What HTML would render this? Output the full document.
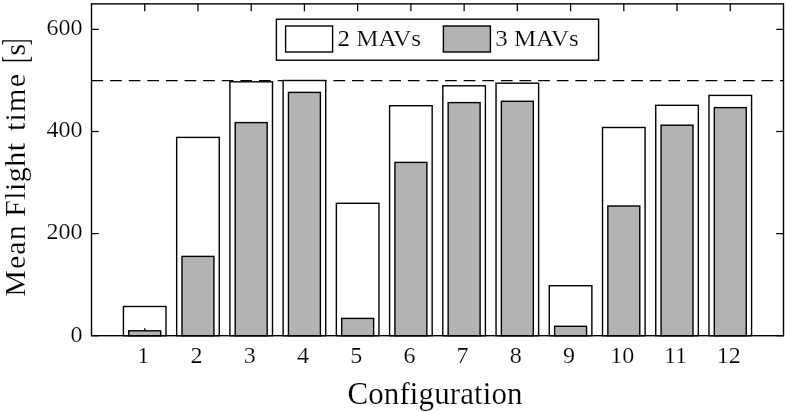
<!DOCTYPE html>
<html lang="en"><head><meta charset="utf-8"><title>Mean Flight time per Configuration</title>
<style>html,body{margin:0;padding:0;background:#fff;}svg{display:block;}text{font-family:"Liberation Serif","DejaVu Serif",serif;fill:#000;stroke:#fff;stroke-width:0.18px;}</style></head><body>
<svg width="786" height="412" viewBox="0 0 786 412">
<rect x="0" y="0" width="786" height="412" fill="#ffffff"/>
<line x1="91.5" y1="80.50" x2="783.5" y2="80.50" stroke="#000" stroke-width="1.25" stroke-dasharray="11.7 6.91"/>
<g stroke="#000" stroke-width="1.4">
<rect x="123.44" y="306.50" width="42.58" height="29.20" fill="#ffffff"/>
<rect x="176.67" y="137.40" width="42.58" height="198.30" fill="#ffffff"/>
<rect x="229.90" y="81.80" width="42.58" height="253.90" fill="#ffffff"/>
<rect x="283.13" y="80.50" width="42.58" height="255.20" fill="#ffffff"/>
<rect x="336.36" y="203.30" width="42.58" height="132.40" fill="#ffffff"/>
<rect x="389.59" y="105.70" width="42.58" height="230.00" fill="#ffffff"/>
<rect x="442.82" y="85.80" width="42.58" height="249.90" fill="#ffffff"/>
<rect x="496.05" y="83.20" width="42.58" height="252.50" fill="#ffffff"/>
<rect x="549.28" y="285.70" width="42.58" height="50.00" fill="#ffffff"/>
<rect x="602.52" y="127.50" width="42.58" height="208.20" fill="#ffffff"/>
<rect x="655.75" y="105.30" width="42.58" height="230.40" fill="#ffffff"/>
<rect x="708.98" y="95.40" width="42.58" height="240.30" fill="#ffffff"/>
</g>
<g stroke="#000" stroke-width="1.25" fill="none">
<line x1="144.73" y1="3.87" x2="144.73" y2="11.370000000000001"/>
<line x1="144.73" y1="335.7" x2="144.73" y2="328.2"/>
<line x1="197.96" y1="3.87" x2="197.96" y2="11.370000000000001"/>
<line x1="197.96" y1="335.7" x2="197.96" y2="328.2"/>
<line x1="251.19" y1="3.87" x2="251.19" y2="11.370000000000001"/>
<line x1="251.19" y1="335.7" x2="251.19" y2="328.2"/>
<line x1="304.42" y1="3.87" x2="304.42" y2="11.370000000000001"/>
<line x1="304.42" y1="335.7" x2="304.42" y2="328.2"/>
<line x1="357.65" y1="3.87" x2="357.65" y2="11.370000000000001"/>
<line x1="357.65" y1="335.7" x2="357.65" y2="328.2"/>
<line x1="410.88" y1="3.87" x2="410.88" y2="11.370000000000001"/>
<line x1="410.88" y1="335.7" x2="410.88" y2="328.2"/>
<line x1="464.12" y1="3.87" x2="464.12" y2="11.370000000000001"/>
<line x1="464.12" y1="335.7" x2="464.12" y2="328.2"/>
<line x1="517.35" y1="3.87" x2="517.35" y2="11.370000000000001"/>
<line x1="517.35" y1="335.7" x2="517.35" y2="328.2"/>
<line x1="570.58" y1="3.87" x2="570.58" y2="11.370000000000001"/>
<line x1="570.58" y1="335.7" x2="570.58" y2="328.2"/>
<line x1="623.81" y1="3.87" x2="623.81" y2="11.370000000000001"/>
<line x1="623.81" y1="335.7" x2="623.81" y2="328.2"/>
<line x1="677.04" y1="3.87" x2="677.04" y2="11.370000000000001"/>
<line x1="677.04" y1="335.7" x2="677.04" y2="328.2"/>
<line x1="730.27" y1="3.87" x2="730.27" y2="11.370000000000001"/>
<line x1="730.27" y1="335.7" x2="730.27" y2="328.2"/>
<line x1="91.5" y1="335.70" x2="98.8" y2="335.70"/>
<line x1="783.5" y1="335.70" x2="776.2" y2="335.70"/>
<line x1="91.5" y1="233.60" x2="98.8" y2="233.60"/>
<line x1="783.5" y1="233.60" x2="776.2" y2="233.60"/>
<line x1="91.5" y1="131.50" x2="98.8" y2="131.50"/>
<line x1="783.5" y1="131.50" x2="776.2" y2="131.50"/>
<line x1="91.5" y1="29.40" x2="98.8" y2="29.40"/>
<line x1="783.5" y1="29.40" x2="776.2" y2="29.40"/>
</g>
<g stroke="#000" stroke-width="1.4">
<rect x="128.76" y="330.80" width="31.94" height="4.90" fill="#b3b3b3"/>
<rect x="181.99" y="256.40" width="31.94" height="79.30" fill="#b3b3b3"/>
<rect x="235.22" y="122.60" width="31.94" height="213.10" fill="#b3b3b3"/>
<rect x="288.45" y="92.40" width="31.94" height="243.30" fill="#b3b3b3"/>
<rect x="341.68" y="318.40" width="31.94" height="17.30" fill="#b3b3b3"/>
<rect x="394.92" y="162.40" width="31.94" height="173.30" fill="#b3b3b3"/>
<rect x="448.15" y="102.60" width="31.94" height="233.10" fill="#b3b3b3"/>
<rect x="501.38" y="101.30" width="31.94" height="234.40" fill="#b3b3b3"/>
<rect x="554.61" y="326.30" width="31.94" height="9.40" fill="#b3b3b3"/>
<rect x="607.84" y="206.00" width="31.94" height="129.70" fill="#b3b3b3"/>
<rect x="661.07" y="125.20" width="31.94" height="210.50" fill="#b3b3b3"/>
<rect x="714.30" y="107.60" width="31.94" height="228.10" fill="#b3b3b3"/>
</g>
<rect x="91.5" y="3.87" width="692.00" height="331.83" fill="none" stroke="#000" stroke-width="1.4"/>
<rect x="276.4" y="19.2" width="322.2" height="41" fill="#ffffff" stroke="#000" stroke-width="1.4"/>
<rect x="285.6" y="26" width="47" height="26" fill="#ffffff" stroke="#000" stroke-width="1.4"/>
<rect x="443.4" y="26" width="47" height="26" fill="#b3b3b3" stroke="#000" stroke-width="1.4"/>
<text x="337.5" y="46" font-size="23" textLength="83.5" lengthAdjust="spacingAndGlyphs">2 MAVs</text>
<text x="495.2" y="46" font-size="23" textLength="83.5" lengthAdjust="spacingAndGlyphs">3 MAVs</text>
<text x="82.5" y="35.3" font-size="24" text-anchor="end">600</text>
<text x="82.5" y="137.0" font-size="24" text-anchor="end">400</text>
<text x="82.5" y="239.0" font-size="24" text-anchor="end">200</text>
<text x="82.5" y="341.9" font-size="24" text-anchor="end">0</text>
<text x="143.23" y="363.2" font-size="24" text-anchor="middle">1</text>
<text x="196.46" y="363.2" font-size="24" text-anchor="middle">2</text>
<text x="249.69" y="363.2" font-size="24" text-anchor="middle">3</text>
<text x="302.92" y="363.2" font-size="24" text-anchor="middle">4</text>
<text x="356.15" y="363.2" font-size="24" text-anchor="middle">5</text>
<text x="409.38" y="363.2" font-size="24" text-anchor="middle">6</text>
<text x="462.62" y="363.2" font-size="24" text-anchor="middle">7</text>
<text x="515.85" y="363.2" font-size="24" text-anchor="middle">8</text>
<text x="569.08" y="363.2" font-size="24" text-anchor="middle">9</text>
<text x="622.31" y="363.2" font-size="24" text-anchor="middle">10</text>
<text x="675.54" y="363.2" font-size="24" text-anchor="middle">11</text>
<text x="728.77" y="363.2" font-size="24" text-anchor="middle">12</text>
<text x="347.5" y="404.3" font-size="31" textLength="175" lengthAdjust="spacing">Configuration</text>
<text transform="translate(24.5 296.8) rotate(-90)" font-size="30" textLength="71.5" lengthAdjust="spacing">Mean</text>
<text transform="translate(24.5 217.0) rotate(-90)" font-size="30" textLength="74" lengthAdjust="spacing">Flight</text>
<text transform="translate(24.5 131) rotate(-90)" font-size="30" textLength="57" lengthAdjust="spacing">time</text>
<text transform="translate(24.5 55.6) rotate(-90)" font-size="30" textLength="10.2" lengthAdjust="spacing">s</text>
<text transform="translate(27 62.8) rotate(-90)" font-size="35" textLength="6.73" lengthAdjust="spacingAndGlyphs">[</text>
<text transform="translate(27 45.6) rotate(-90)" font-size="35" textLength="6.73" lengthAdjust="spacingAndGlyphs">]</text>
</svg></body></html>
